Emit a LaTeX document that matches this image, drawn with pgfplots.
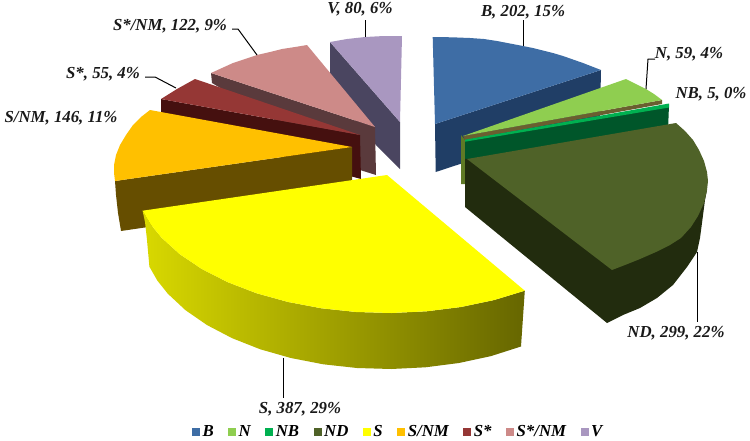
\documentclass[border=0pt]{standalone}
\usepackage{fontspec}
\setmainfont{Liberation Serif}
\usepackage{pgfplots}
\pgfplotsset{compat=1.18}
\definecolor{cB}{HTML}{3E6DA5}\definecolor{cBs}{HTML}{203E66}
\definecolor{cN}{HTML}{8FCE50}\definecolor{cNs}{HTML}{6A5F30}\definecolor{cNl}{HTML}{5F7A25}
\definecolor{cNB}{HTML}{00B050}\definecolor{cNBs}{HTML}{00562A}
\definecolor{cND}{HTML}{4F6228}\definecolor{cNDs}{HTML}{222C0E}
\definecolor{cS}{HTML}{FFFF00}
\definecolor{cSN}{HTML}{FFC000}\definecolor{cSNs}{HTML}{664E00}
\definecolor{cSs}{HTML}{953735}\definecolor{cSss}{HTML}{45100F}
\definecolor{cSSN}{HTML}{CD8A88}\definecolor{cSSNs}{HTML}{5A3A3C}
\definecolor{cV}{HTML}{A997C0}\definecolor{cVs}{HTML}{4A4560}
\newcommand{\lab}[3]{\node[font=\fontsize{16.8}{18}\selectfont\bfseries\itshape,text=black!90,inner sep=0pt] at (axis cs:#1,#2) {#3};}
\begin{document}
\begin{tikzpicture}
\path[use as bounding box] (0,0) rectangle (750pt,440pt);
\begin{axis}[
  at={(0,0)},anchor=south west,
  width=750pt,height=440pt,scale only axis,
  xmin=0,xmax=750,ymin=0,ymax=440,y dir=reverse,
  hide axis,clip=false,
  legend columns=9,
  legend image code/.code={\path[#1] (0pt,-4pt) rectangle (8pt,4pt);},
  legend style={at={(axis cs:192,432)},anchor=west,draw=none,fill=none,inner sep=0pt,outer sep=0pt,
    font=\fontsize{16.8}{18}\selectfont\bfseries\itshape,
    /tikz/every even column/.append style={column sep=12pt},
    nodes={inner xsep=2.5pt,inner ysep=0pt}},
  every axis plot/.append style={draw=none,forget plot},
]
% V
\addplot[fill=cVs] coordinates {(330,42)(400,122)(400,169)(376,145)(330,91)} --cycle;
\addplot[fill=cV] coordinates {(400,122)(330,42)(347,39)(365,37)(384,36)(402,36)} --cycle;
% S*/NM
\addplot[fill=cSSNs] coordinates {(211,73)(375,127)(376,175)(360,170)(212,83)} --cycle;
\addplot[fill=cSSN] coordinates {(375,127)(211,73)(222,68)(233,63)(245,59)(257,55)(270,52)(282,49)(295,47)(307,45)} --cycle;
% S*
\addplot[fill=cSss] coordinates {(161,99)(360,135)(361,179)(161,125)} --cycle;
\addplot[fill=cSs] coordinates {(360,135)(161,99)(177,89)(195,79)} --cycle;
% S/NM
\addplot[fill=cSNs] coordinates {(115,181)(352,147)(352,197)(121,231)(118,213)(116,195)} --cycle;
\addplot[fill=cSN] coordinates {(352,147)(150,110)(141,117)(133,125)(126,135)(120,145)(116,155)(114,165)(114,173)(115,181)} --cycle;
% B
\addplot[fill=cBs] coordinates {(435,124)(601,70)(600,118)(435.7,172)} --cycle;
\addplot[fill=cB] coordinates {(435,124)(432.7,37)(452,37.3)(470,38)(484,39)(497,41)(510,43.5)(523,46)(533,48)(543,50.5)(553,53)(563,56)(573,59.5)(583,63)(592,66.5)(601,70)} --cycle;
% N
\addplot[fill=cNl] coordinates {(461,135)(461,184)(465,184)(465,140)} --cycle;
\addplot[fill=cNs] coordinates {(463,136)(662,100)(662,104)(465,140)} --cycle;
\addplot[fill=cN] coordinates {(463,136)(626,79)(636,84)(646,89)(654,94)(662,100)} --cycle;
% NB
\addplot[fill=cNBs] coordinates {(465,140.7)(669,105)(668,131)(465,166)} --cycle;
\addplot[fill=cNB] coordinates {(465,139.7)(669,103.5)(669,107.5)(465,141.7)} --cycle;
% ND
\addplot[fill=cNDs] coordinates {(465,159)(490,158)(630,250)(707,190)(705,200)(702,223)(700,238)(697,252)(687,267)(673,285)(657,298)(640,308)(623,315)(607,323)(465,207)} --cycle;
\addplot[fill=cND] coordinates {(467,159)(676,123)(685,131)(693,140)(699,150)(704,161)(707,172)(708,181)(707,190)(704,203)(698,216)(691,227)(681,238)(670,245)(656,252)(640,259)(625,265)(612,270)} --cycle;
% S
\addplot[left color=yellow!85!black,middle color=yellow!69!black,right color=yellow!40!black] coordinates {(142.6,210.7)(150.8,224.5)(161.6,237.7)(179.8,254.2)(202,269.1)(227.8,282.2)(256.7,293.3)(288.2,302)(321.5,308.3)(356.2,312)(391.4,313)(426.6,311.3)(461,307)(493.9,300.1)(524.8,290.7)(521,346.5)(491,356.1)(458.9,363)(425.5,367.3)(391.3,369)(357,368)(323.3,364.3)(290.9,358)(260.3,349.3)(232.2,338.2)(207.1,325.1)(185.5,310.2)(167.8,293.7)(157.3,280.5)(149.4,266.7)(147,240)(145,222)} --cycle;
\addplot[fill=cS] coordinates {(387,175)(142.6,210.7)(150.8,224.5)(161.6,237.7)(179.8,254.2)(202,269.1)(227.8,282.2)(256.7,293.3)(288.2,302)(321.5,308.3)(356.2,312)(391.4,313)(426.6,311.3)(461,307)(493.9,300.1)(524.8,290.7)} --cycle;
% leaders
\addplot[draw=black,line width=1pt] coordinates {(523,20)(523,46)};
\addplot[draw=black,line width=1pt] coordinates {(646,89)(648,59)(655,59)};
\addplot[draw=black,line width=1pt] coordinates {(697,252)(697,322)};
\addplot[draw=black,line width=1pt] coordinates {(283,358)(283,398)};
\addplot[draw=black,line width=1pt] coordinates {(145,77)(155,77)(176,88)};
\addplot[draw=black,line width=1pt] coordinates {(232,29)(238,29)(257,55)};
\addplot[draw=black,line width=1pt] coordinates {(365,20)(365,37)};
% labels
\lab{523}{12}{B, 202, 15\%}
\lab{689}{54}{N, 59, 4\%}
\lab{711}{94}{NB, 5, 0\%}
\lab{676}{333}{ND, 299, 22\%}
\lab{300}{409}{S, 387, 29\%}
\lab{61}{118}{S/NM, 146, 11\%}
\lab{103}{74}{S*, 55, 4\%}
\lab{170}{26}{S*/NM, 122, 9\%}
\lab{360}{9}{V, 80, 6\%}
% legend
\addlegendimage{fill=cB,draw=none}\addlegendentry{B}
\addlegendimage{fill=cN,draw=none}\addlegendentry{N}
\addlegendimage{fill=cNB,draw=none}\addlegendentry{NB}
\addlegendimage{fill=cND,draw=none}\addlegendentry{ND}
\addlegendimage{fill=cS,draw=none}\addlegendentry{S}
\addlegendimage{fill=cSN,draw=none}\addlegendentry{S/NM}
\addlegendimage{fill=cSs,draw=none}\addlegendentry{S*}
\addlegendimage{fill=cSSN,draw=none}\addlegendentry{S*/NM}
\addlegendimage{fill=cV,draw=none}\addlegendentry{V}
\end{axis}
\end{tikzpicture}
\end{document}
